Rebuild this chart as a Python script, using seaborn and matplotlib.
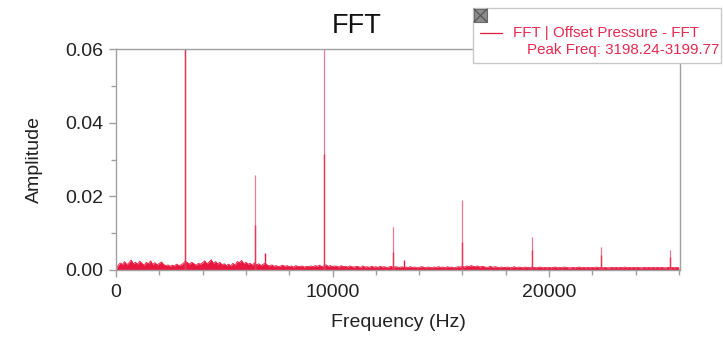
import numpy as np
import matplotlib
matplotlib.use("Agg")
import matplotlib.pyplot as plt
from matplotlib.patches import Rectangle
from matplotlib.lines import Line2D
from matplotlib.ticker import FixedLocator, FormatStrFormatter
import seaborn as sns

# ---------------- data ----------------
bin_width_hz = 100
# noise floor amplitude per 100 Hz bin, in units of 1e-4
noise_x1e4 = [
    0, 13, 19, 15, 23, 14, 20, 27, 17, 21,
    16, 24, 18, 13, 21, 17, 25, 15, 20, 14,
    18, 22, 15, 12, 14, 10, 13, 11, 16, 12,
    14, 18, 24, 20, 16, 21, 17, 13, 18, 16,
    20, 25, 17, 22, 28, 18, 23, 16, 21, 14,
    17, 12, 16, 11, 18, 13, 23, 20, 26, 17,
    21, 16, 18, 13, 20, 14, 17, 12, 16, 18,
    13, 11, 14, 10, 12, 9, 11, 13, 10, 12,
    9, 11, 8, 12, 10, 9, 11, 8, 10, 9,
    11, 9, 12, 10, 13, 9, 11, 14, 10, 12,
    9, 11, 10, 8, 12, 9, 10, 8, 11, 9,
    8, 10, 9, 7, 11, 8, 9, 7, 10, 8,
    9, 7, 10, 8, 9, 7, 8, 10, 7, 9,
    8, 7, 9, 6, 8, 7, 9, 7, 8, 6,
    7, 9, 8, 6, 8, 7, 6, 8, 7, 9,
    7, 8, 6, 9, 7, 8, 6, 7, 9, 8,
    10, 8, 11, 9, 12, 10, 9, 11, 8, 10,
    9, 7, 8, 10, 7, 9, 8, 6, 8, 7,
    7, 8, 6, 7, 9, 6, 8, 7, 6, 8,
    7, 6, 8, 7, 6, 7, 8, 6, 7, 6,
    7, 6, 7, 8, 6, 7, 6, 8, 7, 6,
    6, 7, 6, 7, 8, 6, 7, 6, 7, 6,
    7, 6, 8, 6, 7, 6, 7, 6, 6, 7,
    6, 7, 6, 7, 6, 8, 6, 7, 6, 7,
    6, 7, 6, 6, 7, 6, 7, 6, 7, 6,
    7, 6, 7, 6, 6, 7, 6, 7, 6, 7,
    6,
]
peak_freqs = [3200, 6400, 9600, 12800, 16000, 19200, 22400, 25600]
peak_amps = [0.075, 0.0259, 0.070, 0.0117, 0.0190, 0.0090, 0.0063, 0.0055]
peak_core = [0.070, 0.0123, 0.0315, 0.0050, 0.0076, 0.0055, 0.0040, 0.0035]
side_freqs = [6900, 13300]
side_amps = [0.0046, 0.0027]

title = "FFT"
legend_label = "FFT | Offset Pressure - FFT"
legend_note = "Peak Freq: 3198.24-3199.77"
x_label = "Frequency (Hz)"
y_label = "Amplitude"
x_ticks = [0, 10000, 20000]
y_ticks = [0.00, 0.02, 0.04, 0.06]

# ---------------- style ----------------
sns.set_theme(style="ticks")
plt.rcParams["font.family"] = ["Liberation Sans", "DejaVu Sans"]

RED = "#e8173f"
PALE = "#ee7890"
GRAY = "#a0a0a0"
TXT = "#222222"

W, H = 723, 339
fig = plt.figure(figsize=(W / 100, H / 100), dpi=100)
ax = fig.add_axes([116 / W, 1 - 270 / H, (680 - 116) / W, (270 - 49) / H])

freq = np.arange(len(noise_x1e4)) * bin_width_hz
noise = np.array(noise_x1e4) * 1e-4

ax.fill_between(freq, 0, noise, color=RED, lw=0)
sns.lineplot(x=freq, y=noise, ax=ax, color=RED, linewidth=0.6, estimator=None)
ax.vlines(peak_freqs, 0, peak_amps, color=PALE, lw=0.9)
ax.vlines(peak_freqs, 0, peak_core, color="#e4375a", lw=1.0)
ax.vlines(side_freqs, 0, side_amps, color=RED, lw=1.0)

ax.set_xlim(0, 26050)
ax.set_ylim(0, 0.06)

ax.xaxis.set_major_locator(FixedLocator(x_ticks))
ax.xaxis.set_minor_locator(FixedLocator(list(range(0, 26001, 2000))))
ax.yaxis.set_major_locator(FixedLocator(y_ticks))
ax.yaxis.set_minor_locator(FixedLocator([0.01, 0.03, 0.05]))
ax.yaxis.set_major_formatter(FormatStrFormatter("%.2f"))
ax.xaxis.set_major_formatter(FormatStrFormatter("%d"))

for s in ax.spines.values():
    s.set_visible(True)
    s.set_color(GRAY)
    s.set_linewidth(1.0)

ax.tick_params(axis="both", which="major", length=5, width=1, color=GRAY,
               labelsize=14, labelcolor=TXT, direction="out")
ax.tick_params(axis="both", which="minor", length=3.5, width=1, color=GRAY,
               direction="out")
ax.tick_params(axis="x", which="major", pad=5)
ax.tick_params(axis="y", which="major", pad=4)

ax.set_xlabel(x_label, fontsize=14, color=TXT)
ax.set_ylabel(y_label, fontsize=14, color=TXT)
ax.xaxis.set_label_coords(0.5, (270 - 314) / 221)
ax.yaxis.set_label_coords((43 - 116) / 564, 0.5)

fig.text(357 / W, 1 - 26 / H, title, ha="center", va="center",
         fontsize=19.5, color="#111111")

# legend box (figure pixel coordinates)
def fx(px):
    return px / W

def fy(py):
    return 1 - py / H

fig.patches.append(Rectangle((fx(473), fy(63)), fx(721) - fx(473), fy(8) - fy(63),
                             transform=fig.transFigure, facecolor="white",
                             edgecolor="#c8c8c8", lw=1.0, zorder=5))
fig.patches.append(Rectangle((fx(474), fy(22)), fx(487) - fx(474), fy(9) - fy(22),
                             transform=fig.transFigure, facecolor="#8c8c8c",
                             edgecolor="#6a6a6a", lw=0.8, zorder=6))
for (x0, y0, x1, y1) in [(474, 9, 487, 22), (474, 22, 487, 9)]:
    fig.lines.append(Line2D([fx(x0), fx(x1)], [fy(y0), fy(y1)],
                            transform=fig.transFigure, color="#555555",
                            lw=0.9, zorder=7))
fig.lines.append(Line2D([fx(480), fx(502)], [fy(33), fy(33)],
                        transform=fig.transFigure, color=RED, lw=0.9, zorder=7))
fig.text(fx(513), fy(33), legend_label, ha="left", va="center",
         fontsize=10.9, color="#e62a50", zorder=8)
fig.text(fx(527), fy(50), legend_note, ha="left", va="center",
         fontsize=10.9, color="#e62a50", zorder=8)

fig.savefig("out.png", dpi=100)
